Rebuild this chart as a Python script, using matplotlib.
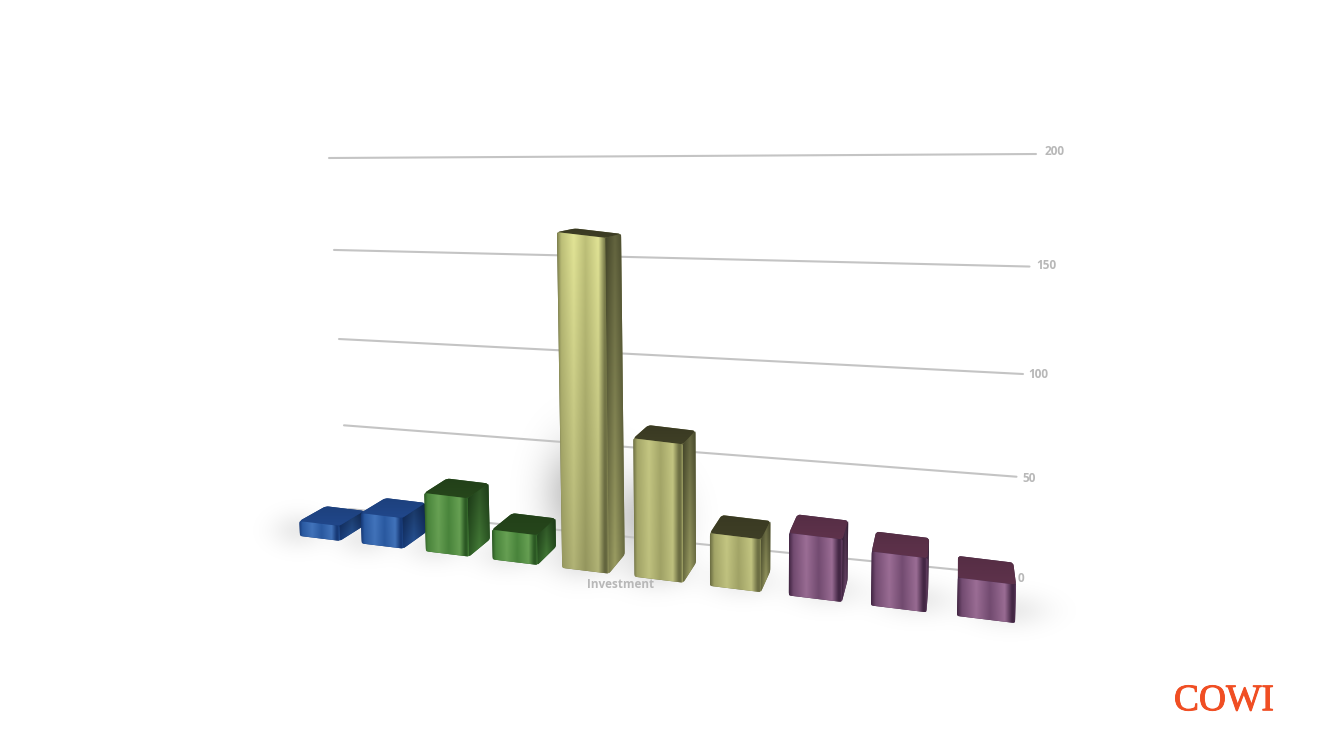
import numpy as np
import matplotlib
matplotlib.use("Agg")
import matplotlib.pyplot as plt
import matplotlib.patheffects as pe
from matplotlib.path import Path
from matplotlib.patches import PathPatch, Rectangle

# values
bar_values = [8, 16, 30, 15, 166, 67, 25, 29, 24.5, 17]
bar_groups = ["blue", "blue", "green", "green", "olive", "olive", "olive", "plum", "plum", "plum"]
axis_ticks = [0, 50, 100, 150, 200]
category_label = "Investment"
logo_text = "COWI"

# dark, mid, light for the metal look of the front, then the top colour
palette = {
    "blue": ("#173a78", "#2a5aa2", "#4274bc", "#1f4484"),
    "green": ("#2c5a24", "#4a863c", "#68a254", "#24431a"),
    "olive": ("#6e7044", "#a4a668", "#c4c682", "#3c3c24"),
    "plum": ("#452846", "#744c72", "#9c6e96", "#5a3048"),
}

W, H = 1333, 750
BAR_WIDTH = 0.65
VP = np.array([960.0, 150.0])  # where the depth lines meet
VERT_VP = np.array([724.0, 11000.0])  # vertical lines lean away from this


def ground(c):
    # front bottom corner of a bar at category position c
    w = 1 - 0.01888 * c
    x = (54.93 * c + 300) / w
    return np.array([x, 536 + 0.1217 * (x - 300)])


def lift(p, h):
    lean = (p[0] - VERT_VP[0]) * h / (VERT_VP[1] - p[1])
    return np.array([p[0] + lean, p[1] - h])


def back(p, c):
    return p + (0.040 + 0.0012 * c) * (VP - p)


def wall(t, v):
    # t=0 left end, t=1 right end of a gridline at value v
    xl, xr = 349 - 0.1 * v, 1010 + 0.13 * v
    yl = (-1.803 * v + 509) / (1 - 0.000304 * v)
    yr = (-2.1715 * v + 575) / (1 - 0.000432 * v)
    return xl + (xr - xl) * t, yl + (yr - yl) * t


def rounded(points, r):
    pts = [np.asarray(p, float) for p in points]
    n = len(pts)
    verts, codes = [], []
    for i in range(n):
        p, a, b = pts[i], pts[i - 1], pts[(i + 1) % n]
        ra = min(r, np.linalg.norm(a - p) * 0.45)
        rb = min(r, np.linalg.norm(b - p) * 0.45)
        p0 = p + (a - p) / np.linalg.norm(a - p) * ra
        p1 = p + (b - p) / np.linalg.norm(b - p) * rb
        verts += [p0, p, p1]
        codes += [Path.MOVETO if i == 0 else Path.LINETO, Path.CURVE3, Path.CURVE3]
    verts.append(verts[0])
    codes.append(Path.CLOSEPOLY)
    return Path(verts, codes)


def to_rgb(c):
    return np.array(matplotlib.colors.to_rgb(c))


def fill_face(ax, points, stops, colors, fade=(1.0, 1.0), r=3, z=3):
    # horizontal colour stops, clipped to the face shape
    pts = np.array(points)
    x0, x1 = pts[:, 0].min(), pts[:, 0].max()
    y0, y1 = pts[:, 1].min(), pts[:, 1].max()
    xs = np.linspace(0, 1, 80)
    rgb = np.stack([np.interp(xs, stops, [to_rgb(c)[i] for c in colors]) for i in range(3)], axis=1)
    ys = np.linspace(fade[0], fade[1], 60)[:, None, None]
    img = np.clip(rgb[None, :, :] * ys, 0, 1)
    im = ax.imshow(img, extent=(x0, x1, y1, y0), aspect="auto", zorder=z, interpolation="bilinear")
    patch = PathPatch(rounded(points, r), transform=ax.transData, fc="none", ec="none")
    ax.add_patch(patch)
    im.set_clip_path(patch)


plt.rcParams["font.family"] = ["Open Sans", "DejaVu Sans"]
fig = plt.figure(figsize=(13.33, 7.5), dpi=100)
ax = fig.add_axes([0, 0, 1, 1])

# soft shadow around the bars
yy, xx = np.mgrid[0:H, 0:W]
shade = np.zeros((H, W))
for c, v in enumerate(bar_values):
    gl = ground(c)
    gr = ground(c + BAR_WIDTH)
    cx = (gl[0] + gr[0]) / 2
    wid = gr[0] - gl[0]
    shift = (cx - 640) * 0.07
    shade += 0.08 * np.exp(-((xx - cx - shift) / (wid * 0.65)) ** 2 - ((yy - gl[1] + 6) / 18) ** 2)
    if v > 60:
        hgt = min(v * 0.5, 50)
        shade += 0.24 * np.exp(-((xx - cx + 10) / (wid * 0.7)) ** 2 - ((yy - gl[1] + 25 + hgt) / (25 + hgt * 0.5)) ** 2)
shade = np.clip(shade, 0, 0.5)
sh_img = np.zeros((H, W, 4))
sh_img[..., 3] = shade
ax.imshow(sh_img, extent=(0, W, H, 0), aspect="auto", zorder=1)

# gridlines and value labels on the back wall
for v in axis_ticks:
    x0, y0 = wall(0, v)
    x1, y1 = wall(1, v)
    ax.plot([x0, x1], [y0, y1], color="#c4c4c4", lw=1.5, zorder=2, solid_capstyle="round")
    t = ax.text(1021 + 0.17 * v, y1 + 3.5 - 0.028 * v, str(v), color="#b8b8b8", fontsize=8.5,
                fontweight="bold", ha="center", va="center", zorder=2)
    t.set_clip_path(Rectangle((0, 0), 1065, H, transform=ax.transData))

ax.text(621, 584, category_label, color="#b8b8b8", fontsize=8.5, fontweight="bold",
        ha="center", va="center", zorder=2)

# bars
scale0 = 1.87
for c, (v, g) in enumerate(zip(bar_values, bar_groups)):
    dark, mid, light, top = palette[g]
    s = scale0 / (1 - 0.01888 * c)
    h = v * s
    fl, fr = ground(c), ground(c + BAR_WIDTH)
    tl, tr = lift(fl, h), lift(fr, h)
    bl, br = back(tl, c), back(tr, c)
    gbr = back(fr, c)
    z = 3 + c * 0.1

    # dark silhouette under the faces, so no gaps show between them
    ax.add_patch(PathPatch(rounded([tl, bl, br, gbr, fr, fl] if gbr[0] > fr[0] else [tl, bl, br, tr, fr, fl], 3),
                           fc=dark, ec="none", zorder=z))

    # side face only when it turns towards us
    if gbr[0] > fr[0] + 0.5:
        fill_face(ax, [tr, br, gbr, fr], [0, 0.5, 1], [dark, mid, dark],
                  fade=(0.6, 0.95), r=1.5, z=z + 0.01)
    # top face
    fill_face(ax, [tl, tr, br, bl], [0, 0.5, 1], [top, top, top],
              fade=(0.95, 1.05), r=3, z=z + 0.01)
    # front face with metal highlights
    fade = (1.15, 0.9) if v > 100 else (1.0, 0.97)
    fill_face(ax, [tl, tr, fr, fl], [0, 0.08, 0.32, 0.55, 0.8, 0.92, 0.96, 1],
              [dark, mid, light, mid, light, dark, dark, mid],
              fade=fade, r=1.5, z=z + 0.02)

# company logo
ax.text(1224, 701, logo_text, color="#f04e23", family="Liberation Serif", fontsize=27,
        ha="center", va="center", zorder=5,
        path_effects=[pe.withStroke(linewidth=0.7, foreground="#f04e23")])

ax.set_xlim(0, W)
ax.set_ylim(H, 0)
ax.axis("off")
fig.savefig("out.png", dpi=100, facecolor="white")
